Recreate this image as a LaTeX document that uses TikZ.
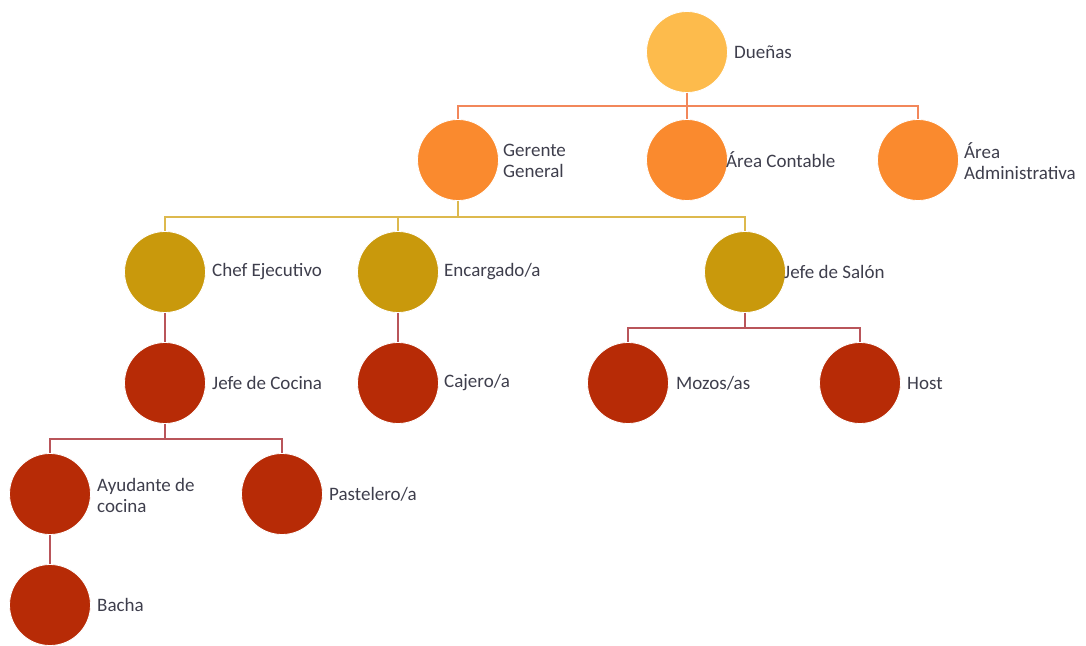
\documentclass[tikz,border=0pt]{standalone}
\usepackage{fontspec}
\setmainfont{Carlito}
\begin{document}
\begin{tikzpicture}[x=1pt,y=-1pt,
  circ/.style={circle,minimum size=81pt,inner sep=0pt,draw=white,line width=0.8pt},
  lv1/.style={circ,fill=c1},
  lv2/.style={circ,fill=c2},
  lv3/.style={circ,fill=c3},
  lv4/.style={circ,fill=c4},
  lbl/.style={anchor=west,font=\fontsize{19}{21}\selectfont,text=txt,align=left,inner sep=0pt},
  e1/.style={draw=l1,line width=1.5pt},
  e2/.style={draw=l2,line width=1.5pt},
  e3/.style={draw=l3,line width=1.5pt}]
\definecolor{c1}{HTML}{FDBB4C}
\definecolor{c2}{HTML}{FA8A2E}
\definecolor{c3}{HTML}{C9990C}
\definecolor{c4}{HTML}{B72B06}
\definecolor{l1}{HTML}{F2875A}
\definecolor{l2}{HTML}{DDB94E}
\definecolor{l3}{HTML}{B9555A}
\definecolor{txt}{HTML}{3E3E4C}
\useasboundingbox (0,0) rectangle (1086,645);
% nodes
\node[lv1] (due) at (687,52) {};
\node[lv2] (ger) at (458,160) {};
\node[lv2] (con) at (687,160) {};
\node[lv2] (adm) at (918,160) {};
\node[lv3] (che) at (165,272) {};
\node[lv3] (enc) at (398,272) {};
\node[lv3] (sal) at (745,272) {};
\node[lv4] (coc) at (165,383) {};
\node[lv4] (caj) at (398,383) {};
\node[lv4] (moz) at (628,383) {};
\node[lv4] (hos) at (860,383) {};
\node[lv4] (ayu) at (50,494) {};
\node[lv4] (pas) at (282,494) {};
\node[lv4] (bac) at (50,605) {};
% labels
\node[lbl] (tdue) at (734,52) {Dueñas};
\node[lbl] (tger) at (503,161) {Gerente\\General};
\node[lbl] (tcon) at (726,160) {Área Contable};
\node[lbl] (tadm) at (964,161) {Área\\Administrativa};
\node[lbl] (tche) at (212,272) {Chef Ejecutivo};
\node[lbl] (tenc) at (444,272) {Encargado/a};
\node[lbl] (tsal) at (784,272) {Jefe de Salón};
\node[lbl] (tcoc) at (212,383) {Jefe de Cocina};
\node[lbl] (tcaj) at (444,383) {Cajero/a};
\node[lbl] (tmoz) at (676,383) {Mozos/as};
\node[lbl] (thos) at (907,383) {Host};
\node[lbl] (tayu) at (97,495) {Ayudante de\\cocina};
\node[lbl] (tpas) at (329,494) {Pastelero/a};
\node[lbl] (tbac) at (97,605) {Bacha};
% connectors
\draw[e1] (due.south) -- ++(0,13) -| (ger.north);
\draw[e1] (due.south) -- (con.north);
\draw[e1] (due.south) -- ++(0,13) -| (adm.north);
\draw[e2] (ger.south) -- ++(0,16) -| (che.north);
\draw[e2] (ger.south) -- ++(0,16) -| (enc.north);
\draw[e2] (ger.south) -- ++(0,16) -| (sal.north);
\draw[e3] (che.south) -- (coc.north);
\draw[e3] (enc.south) -- (caj.north);
\draw[e3] (sal.south) -- ++(0,15) -| (moz.north);
\draw[e3] (sal.south) -- ++(0,15) -| (hos.north);
\draw[e3] (coc.south) -- ++(0,15) -| (ayu.north);
\draw[e3] (coc.south) -- ++(0,15) -| (pas.north);
\draw[e3] (ayu.south) -- (bac.north);
\end{tikzpicture}
\end{document}
